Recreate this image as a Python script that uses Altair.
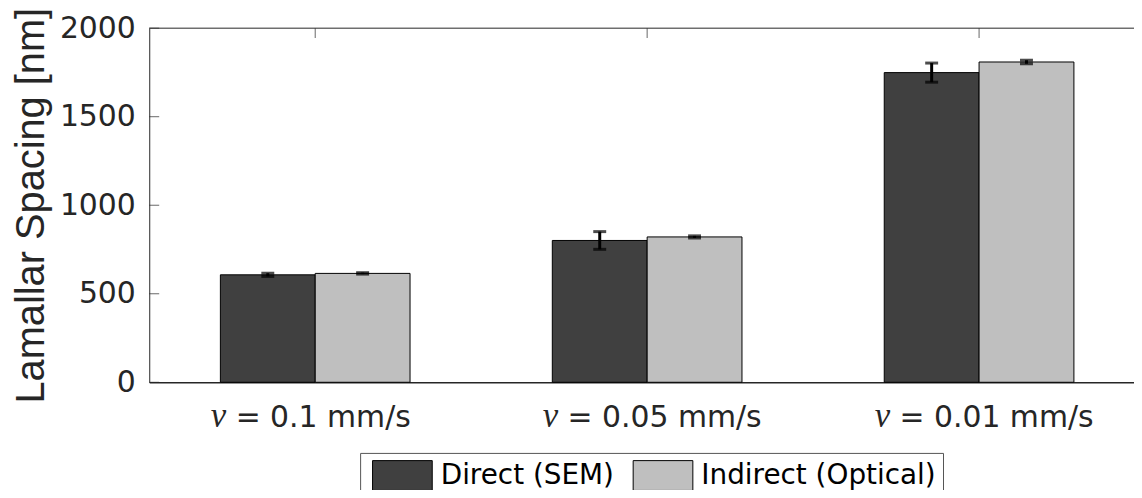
import altair as alt
import pandas as pd

# ---- data ----
groups = [1, 2, 3]
nu_symbol = ["ν", "ν", "ν"]
label_rest = ["= 0.1 mm/s", "= 0.05 mm/s", "= 0.01 mm/s"]
series = ["Direct (SEM)", "Indirect (Optical)"]
direct = [607, 801, 1749]
direct_err = [9, 50, 54]
indirect = [615, 821, 1809]
indirect_err = [4, 6, 10]
y_ticks = [0, 500, 1000, 1500, 2000]

# ---- layout / style ----
W, H = 990, 356
PX_PER_UNIT = 333.7
XMAX = 0.5 + W / PX_PER_UNIT
BW = 0.2857          # MATLAB grouped-bar width
AX = "#262626"

rows = []
for si, (vals, errs) in enumerate([(direct, direct_err), (indirect, indirect_err)]):
    for g, v, e in zip(groups, vals, errs):
        x0 = g - BW + si * BW
        rows.append(dict(g=g, series=series[si], value=v, lo=v - e, hi=v + e,
                         x0=x0, x1=x0 + BW, xc=x0 + BW / 2))
df = pd.DataFrame(rows)
lab = pd.DataFrame(dict(g=groups, nu=nu_symbol, rest=label_rest))

xscale = alt.Scale(domain=[0.5, XMAX], nice=False, zero=False)
yscale = alt.Scale(domain=[0, 2000], nice=False)

xaxis = alt.Axis(labels=False, ticks=False, grid=False, title=None,
                 domainColor=AX, domainWidth=1.5)
yaxis = alt.Axis(values=y_ticks, format="d", ticks=False, grid=False, domainColor=AX,
                 labelFont="DejaVu Sans", labelFontSize=30, labelColor=AX,
                 labelPadding=14,
                 title="Lamallar Spacing [nm]", titleFont="Liberation Sans",
                 titleFontSize=40, titleFontWeight="normal", titleColor=AX,
                 titleX=-106, titleY=H / 2, titleAngle=270,
                 titleBaseline="alphabetic", titleAlign="center")

top_border = alt.Chart(pd.DataFrame({"y": [2000]})).mark_rule(color=AX, strokeWidth=1).encode(
    y=alt.Y("y:Q", scale=yscale), x=alt.value(0), x2=alt.value(W))

ytick_marks = alt.Chart(pd.DataFrame({"t": y_ticks})).mark_tick(
    orient="horizontal", size=10, thickness=1, color=AX).encode(
    y=alt.Y("t:Q", scale=yscale), x=alt.value(5))

top_ticks = alt.Chart(pd.DataFrame({"g": groups})).mark_tick(
    orient="vertical", size=10, thickness=1, color=AX).encode(
    x=alt.X("g:Q", scale=xscale), y=alt.value(5))

bars = alt.Chart(df).mark_bar(stroke="black", strokeWidth=1).encode(
    x=alt.X("x0:Q", scale=xscale, axis=xaxis),
    x2="x1:Q",
    y=alt.Y("value:Q", scale=yscale, axis=yaxis),
    y2=alt.datum(0),
    color=alt.Color("series:N",
                    scale=alt.Scale(domain=series, range=["#404040", "#bfbfbf"]),
                    sort=series,
                    legend=alt.Legend(orient="none", legendX=212, legendY=427,
                                      direction="horizontal", title=None,
                                      symbolType="M-1,-1H1V0H-1Z", symbolSize=3600,
                                      symbolStrokeColor="black", symbolStrokeWidth=1,
                                      symbolOpacity=1, symbolOffset=5,
                                      labelFont="DejaVu Sans", labelFontSize=28,
                                      labelColor="black", labelOffset=8,
                                      labelBaseline="bottom", labelLimit=0,
                                      columnPadding=13, padding=7,
                                      strokeColor="#555555", fillColor="white")),
)

err_rule = alt.Chart(df).mark_rule(color="black", strokeWidth=3).encode(
    x=alt.X("xc:Q", scale=xscale), y=alt.Y("lo:Q", scale=yscale), y2="hi:Q")
cap_lo = alt.Chart(df).mark_tick(orient="horizontal", size=13, thickness=3, color="black").encode(
    x=alt.X("xc:Q", scale=xscale), y=alt.Y("lo:Q", scale=yscale))
cap_hi = alt.Chart(df).mark_tick(orient="horizontal", size=13, thickness=3, color="black").encode(
    x=alt.X("xc:Q", scale=xscale), y=alt.Y("hi:Q", scale=yscale))

nu_text = alt.Chart(lab).mark_text(align="left", baseline="alphabetic", dx=-105,
                                   font="Liberation Serif", fontStyle="italic",
                                   fontSize=35, color=AX).encode(
    x=alt.X("g:Q", scale=xscale), y=alt.value(401), text="nu:N")
rest_text = alt.Chart(lab).mark_text(align="left", baseline="alphabetic", dx=-80,
                                     font="DejaVu Sans", fontSize=30, color=AX).encode(
    x=alt.X("g:Q", scale=xscale), y=alt.value(401), text="rest:N")

chart = alt.layer(top_border, ytick_marks, top_ticks, bars, err_rule, cap_lo, cap_hi,
                  nu_text, rest_text).properties(
    width=W, height=H,
    padding={"left": 142, "top": 19, "right": 0, "bottom": 107},
    autosize=alt.AutoSizeParams(type="none"),
    background="white",
).configure_view(stroke=None)

chart.save("out.html", embed_options={"renderer": "svg", "actions": False})
